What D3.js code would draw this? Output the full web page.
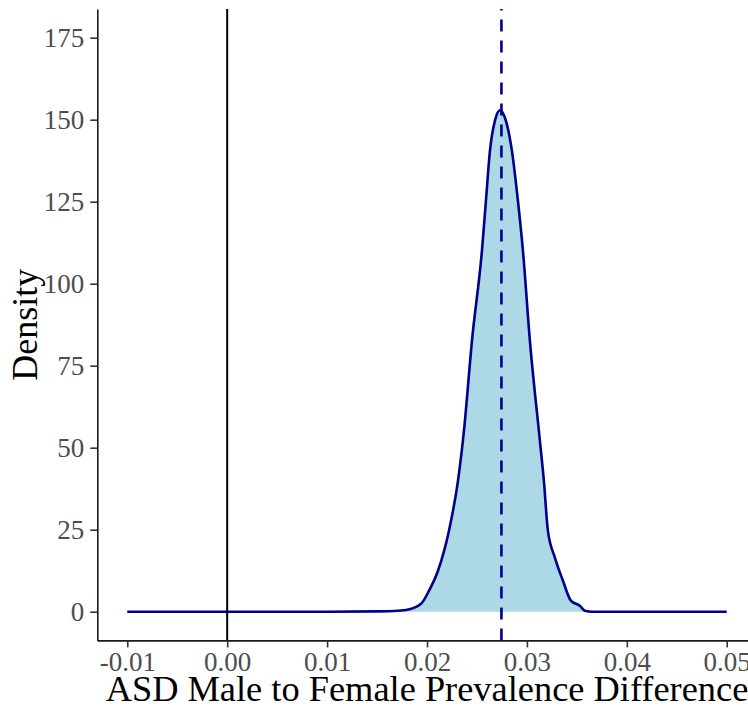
<!DOCTYPE html>
<html>
<head>
<meta charset="utf-8">
<script src="https://cdn.jsdelivr.net/npm/d3@7"></script>
<style>
  body { margin: 0; background: #fff; }
  text { font-family: "Liberation Serif", serif; }
</style>
</head>
<body>
<svg id="chart" width="748" height="709"></svg>
<script>
// density estimate of the difference
var diffX = [-0.01, 0.0, 0.01, 0.015, 0.0167, 0.0179, 0.0194, 0.0202, 0.0211, 0.0222, 0.0231, 0.0237,
  0.0245, 0.0255, 0.0259, 0.0263, 0.0268, 0.0273, 0.0278, 0.0285, 0.0291, 0.0296, 0.0303,
  0.0313, 0.0317, 0.0321, 0.0328, 0.0336, 0.0344, 0.0353, 0.0358, 0.0365, 0.04, 0.05];
var densityY = [0, 0, 0, 0.1, 0.2, 0.5, 2.4, 6.4, 12.5, 24.7, 39.9, 55.2,
  82.6, 110.1, 125.3, 140.5, 149.7, 152.9, 150.6, 140.5, 125.3, 110.1, 82.6,
  52.1, 39.9, 24.7, 16.5, 9.5, 3.4, 1.8, 0.3, 0, 0, 0];
var meanDiff = 0.02745;
var xTicks = [-0.01, 0.00, 0.01, 0.02, 0.03, 0.04, 0.05];
var yTicks = [0, 25, 50, 75, 100, 125, 150, 175];

var svg = d3.select("#chart");

var x = d3.scaleLinear()
  .domain([-0.013, 0.053])
  .range([97.3, 756.7]);

var y = d3.scaleLinear()
  .domain([-8.75, 183.75])
  .range([640.4, 9]);

var pts = diffX.map(function (d, i) { return [d, densityY[i]]; });

var g = svg.append("g");

// filled area
g.append("path")
  .datum(pts)
  .attr("fill", "#ADD8E6")
  .attr("d", d3.area()
    .x(function (d) { return x(d[0]); })
    .y0(y(0))
    .y1(function (d) { return y(d[1]); })
    .curve(d3.curveMonotoneX));

// outline
g.append("path")
  .datum(pts)
  .attr("fill", "none")
  .attr("stroke", "#00008B")
  .attr("stroke-width", 2.6)
  .attr("stroke-linejoin", "round")
  .attr("d", d3.line()
    .x(function (d) { return x(d[0]); })
    .y(function (d) { return y(d[1]); })
    .curve(d3.curveMonotoneX));

// zero line
g.append("line")
  .attr("x1", x(0)).attr("x2", x(0))
  .attr("y1", y.range()[0]).attr("y2", y.range()[1])
  .attr("stroke", "#000")
  .attr("stroke-width", 2);

// mean line
g.append("line")
  .attr("x1", x(meanDiff)).attr("x2", x(meanDiff))
  .attr("y1", y.range()[0]).attr("y2", y.range()[1])
  .attr("stroke", "#00008B")
  .attr("stroke-width", 2.6)
  .attr("stroke-dasharray", "12,9");

// axes
var yAxis = svg.append("g")
  .attr("transform", "translate(" + x.range()[0] + ",0)")
  .call(d3.axisLeft(y).tickValues(yTicks).tickSize(7).tickPadding(6).tickSizeOuter(0));

var xAxis = svg.append("g")
  .attr("transform", "translate(0," + y.range()[0] + ")")
  .call(d3.axisBottom(x).tickValues(xTicks).tickSize(7).tickPadding(4).tickSizeOuter(0)
    .tickFormat(d3.format(".2f")));

[yAxis, xAxis].forEach(function (a) {
  a.select(".domain").attr("stroke", "#1a1a1a").attr("stroke-width", 1.6);
  a.selectAll(".tick line").attr("stroke", "#333").attr("stroke-width", 1.6);
  a.selectAll(".tick text")
    .attr("fill", "#4D4D4D")
    .style("font-family", "Liberation Serif, serif")
    .style("font-size", "27px");
});
xAxis.selectAll(".tick text").text(function (d) { return d3.format(".2f")(d).replace("−", "-"); });

// axis titles
var xt = svg.append("text")
  .attr("x", (x.range()[0] + x.range()[1]) / 2)
  .attr("y", 701)
  .attr("text-anchor", "middle")
  .attr("fill", "#000")
  .style("font-size", "34px")
  .text("ASD Male to Female Prevalence Difference");
// scale title to the width seen in the picture
var w = xt.node().getComputedTextLength();
xt.style("font-size", (34 * 643 / w) + "px");

var yt = svg.append("text")
  .attr("transform", "translate(37," + ((y.range()[0] + y.range()[1]) / 2) + ") rotate(-90)")
  .attr("text-anchor", "middle")
  .attr("fill", "#000")
  .style("font-size", "34px")
  .text("Density");
var wy = yt.node().getComputedTextLength();
yt.style("font-size", (34 * 112 / wy) + "px");
</script>
</body>
</html>
